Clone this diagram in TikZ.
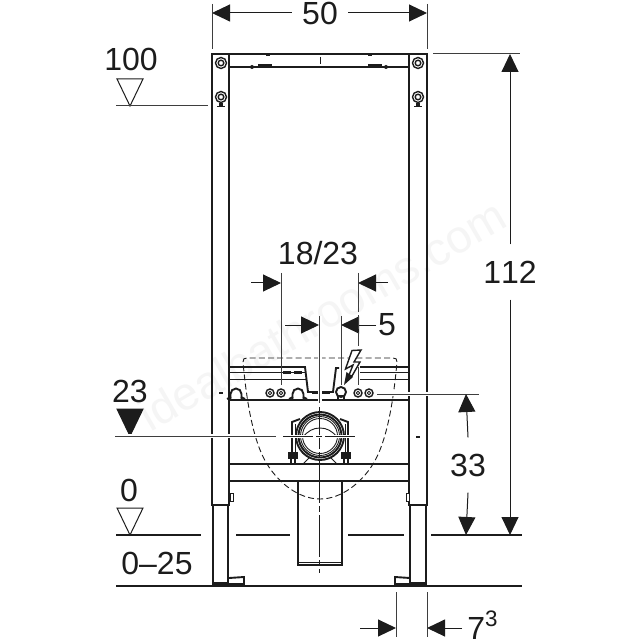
\documentclass[tikz,border=0pt]{standalone}
\usepackage{fontspec}
\setmainfont[Kerning=Off]{Liberation Sans}
\usetikzlibrary{arrows.meta}
\definecolor{ink}{HTML}{1C1C1C}
\begin{document}
\begin{tikzpicture}[x=0.5pt,y=-0.5pt,ink]
\tikzstyle{frame}=[draw=ink,line width=0.95pt]
\tikzstyle{fine}=[draw=ink,line width=0.45pt]
\tikzstyle{extline}=[draw=ink!85,line width=0.5pt]
\tikzstyle{halo}=[preaction={draw=white,line width=2pt}]
\tikzstyle{dimline}=[draw=ink,line width=0.5pt,-{Triangle[length=9pt,width=8.5pt]}]
\tikzstyle{dimtext}=[font=\fontsize{16}{16}\selectfont,text=ink,inner sep=4pt]
\tikzstyle{levelmark}=[draw=ink,line width=0.5pt,fill=white]
\tikzstyle{anchorpt}=[coordinate]
\useasboundingbox[fill=white] (0,0) rectangle (640,640);
  \node[rotate=30,text=black!4,font=\fontsize{23}{23}\selectfont] (mark) at (322,315) {idealbathrooms.com};
  % frame and legs
  \foreach \a/\b in {212/229,409/427}{
    \path[frame] (\a,505) -- (\a,54) -- (\b,54) -- (\b,505) -- cycle;
    \path[frame] (\a+1,505) -- (\a+1,583) -- (\b-1,583) -- (\b-1,505);
  }
  \path[frame] (229,54) -- (409,54);
  \foreach \y in {67,400,464,481}
    \path[frame] (229,\y) -- (409,\y);
  \path[frame] (229,367) -- (305,367) -- (308,392) -- (333,392) -- (336,368) -- (339,368);
  \path[frame] (360,367) -- (409,367);
  \foreach \a/\b in {229/306,360/409}
    \foreach \y in {372,379}
      \path[fine] (\a,\y) -- (\b,\y);
  \foreach \a/\b/\y in {283/291/372,294/302/372,312/320/392,322/330/392}
    \path[frame,line width=1.5pt] (\a,\y) -- (\b,\y);
  % feet
  \path[frame] (213,578) -- (213,584) -- (244,584) -- (244,577) -- (229,578);
  \path[frame] (426,578) -- (426,584) -- (395,584) -- (395,577) -- (410,578);
  \foreach \x in {230,406}
    \path[fine,fill=white] (\x,493) rectangle (\x+3,501);
  % top rail
  \path[fine] (320,57) -- (320,64);
  \foreach \a/\b in {258/272,368/382}
    \fill (\a,64) rectangle (\b,67);
  \foreach \x in {252,386}
    \fill (\x,67) circle (2);
  \foreach \x in {268,370}
    \path[fine] (\x-2,55.5) -- (\x+2,55.5);
  % rings on the posts
  \foreach \x in {221,418}{
    \foreach \y in {63,97}{
      \path[fine,line width=0.7pt] (\x,\y) circle (5.5);
      \path[fine,line width=0.7pt] (\x,\y) circle (2.8);
    }
    \path[frame] (\x-1,103) -- (\x-1,106) (\x+1,103) -- (\x+1,106);
    \path[frame] (\x-4,106.5) -- (\x+4,106.5);
  }
  \foreach \x/\y in {221/393,418/437}
    \fill (\x-2,\y-1) rectangle (\x+2,\y+1);
  % small rings and hooks on the rail
  \foreach \x in {270,281,358,369}{
    \path[fine,line width=0.7pt] (\x,393) circle (4);
    \path[fine] (\x,393) circle (1.8);
  }
  \foreach \x in {236,298}{
    \path[frame] (\x-5.5,399) -- (\x-5.5,394) arc[start angle=180,end angle=360,radius=5.5] -- (\x+5.5,399);
    \path[frame] (\x-9,399) -- (\x-5,397) (\x+9,399) -- (\x+5,397);
  }
  \path[frame] (341,392) circle (5);
  \path[frame] (338,396) rectangle (344,400);
  % pipe
  \path[frame] (292,453) -- (292,422) -- (300,419) (348,453) -- (348,422) -- (340,419);
  \path[fine] (295,453) -- (295,424) (345,453) -- (345,424);
  \foreach \a/\b in {289/297,342/350}{
    \path[frame,fill=ink] (\a,453) rectangle (\b,458);
    \path[frame] (\a+2,458) rectangle (\b-2,464);
  }
  \path[frame,fill=white] (320,436) circle (24);
  \path[frame] (320,436) circle (21.5);
  \path[fine] (320,436) circle (19.5);
  \path[fine] (320,436) circle (17.5);
  \path[fine] (303,437) .. controls (308,431) and (313,428) .. (320,428) .. controls (327,428) and (332,431) .. (337,437);
  \path[fine] (303,464) -- (310,457) (337,464) -- (330,457);
  % drain tube
  \path[frame] (298,481) -- (298,565) -- (342,565) -- (342,481);
  \path[fine] (298,562.5) -- (342,562.5);
  % ceramic outline
  \path[fine,dash pattern=on 3pt off 1.6pt] (320,358) -- (247,358) .. controls (244,358) and (243,359) .. (243,362) .. controls (246,395) and (252,440) .. (267,464) .. controls (278,482) and (298,499) .. (320,499) .. controls (342,499) and (362,482) .. (373,464) .. controls (388,440) and (394,395) .. (397,362) .. controls (397,359) and (396,358) .. (393,358) -- (320,358);
  % lightning bolt
  \path[fine,line width=0.7pt,fill=white] (361,350) -- (352,350.5) -- (345.5,369) -- (353,365) -- (349,375) -- (352,376) -- (360,362) -- (354,362) -- cycle;
  \fill (344,385) -- (346.5,372) -- (353,377) -- cycle;
  % centre lines
  \node[anchorpt] (ctop) at (319.5,316) {};
  \node[anchorpt] (cmid) at (319.5,403) {};
  \node[anchorpt] (cpipe) at (319.5,407) {};
  \node[anchorpt] (cend) at (319.5,573) {};
  \node[anchorpt] (crossl) at (283,436) {};
  \node[anchorpt] (crossr) at (357,436) {};
  \path[extline,halo] (ctop) -- (cmid);
  \path[fine,dash pattern=on 21pt off 1.5pt on 3pt off 1.5pt] (cpipe) -- (cend);
  \path[fine,dash pattern=on 15pt off 1.5pt on 3pt off 1.5pt,preaction={draw=white,line width=1.5pt}] (crossl) -- (crossr);
  % levels
  \node[dimtext] (t100) at (131,59) {100};
  \node[dimtext] (t23) at (130,391) {23};
  \node[dimtext] (t0) at (129,490) {0};
  \node[dimtext] (t025) at (157,563) {0–25};
  \path[levelmark] (117,79) -- (143,79) -- (130,106) -- cycle;
  \path[levelmark,fill=ink] (117,409) -- (143,409) -- (130,436) -- cycle;
  \path[levelmark] (117,508) -- (143,508) -- (130,535) -- cycle;
  \foreach \place/\name in {{(116,106)/lva},
                            {(208,106)/lvb},
                            {(115,436)/lvc},
                            {(276,436)/lvd},
                            {(377,394)/lve},
                            {(479,394)/lvf},
                            {(433,54)/lvg},
                            {(520,54)/lvh}}
    \node[anchorpt] (\name) at \place {};
  \path[extline] (lva) -- (lvb);
  \path[extline,halo] (lvc) -- (lvd);
  \path[extline,halo] (lve) -- (lvf);
  \path[extline] (lvg) -- (lvh);
  % floor lines
  \foreach \a/\b in {116/201,236/290,348/404,431/522}
    \path[frame,line width=0.95pt] (\a,535) -- (\b,535);
  \node[anchorpt] (floorl) at (116,586) {};
  \node[anchorpt] (floorr) at (522,586) {};
  \path[frame,line width=1.1pt] (floorl) -- (floorr);
  % dimensions
  \foreach \place/\name in {{(212,13)/wa},{(427,13)/wb},
                            {(510,54)/ha},{(510,535)/hb},
                            {(466,394)/fa},{(466,535)/fb},
                            {(281,283)/oa},{(251,283)/ob},
                            {(358,283)/oc},{(388,283)/od},
                            {(319,325)/ia},{(285,325)/ib},
                            {(341,325)/ic},{(376,325)/id},
                            {(396,628)/ba},{(360,628)/bb},
                            {(427,628)/bc},{(462,628)/bd}}
    \node[anchorpt] (\name) at \place {};
  \node[dimtext,inner sep=5pt] (t50) at (320,13) {50};
  \node[dimtext,inner sep=8pt] (t112) at (510,272) {112};
  \node[dimtext,inner sep=8pt] (t33) at (468,465) {33};
  \node[dimtext] (t1823) at (318,253) {18/23};
  \node[dimtext] (t5) at (387,325) {5};
  \node[dimtext,anchor=west,inner sep=0pt] (t73) at (467,625) {7\textsuperscript{3}};
  \foreach \source/\dest in {t50.west/wa,t50.east/wb,t112.north/ha,t112.south/hb,t33.north/fa,t33.south/fb,ob/oa,od/oc,ib/ia,id/ic,bb/ba,bd/bc}
    \path[dimline] (\source) -- (\dest);
  \foreach \a/\y/\b in {212/4/49,427/4/49,281/273/385,341/316/385,396/592/637,427/592/637,358/273/312,358/367/385}
    \path[extline] (\a,\y) -- (\a,\b);
  \path[extline,dash pattern=on 7pt off 1.5pt] (358,315) -- (358,347);
\end{tikzpicture}
\end{document}
